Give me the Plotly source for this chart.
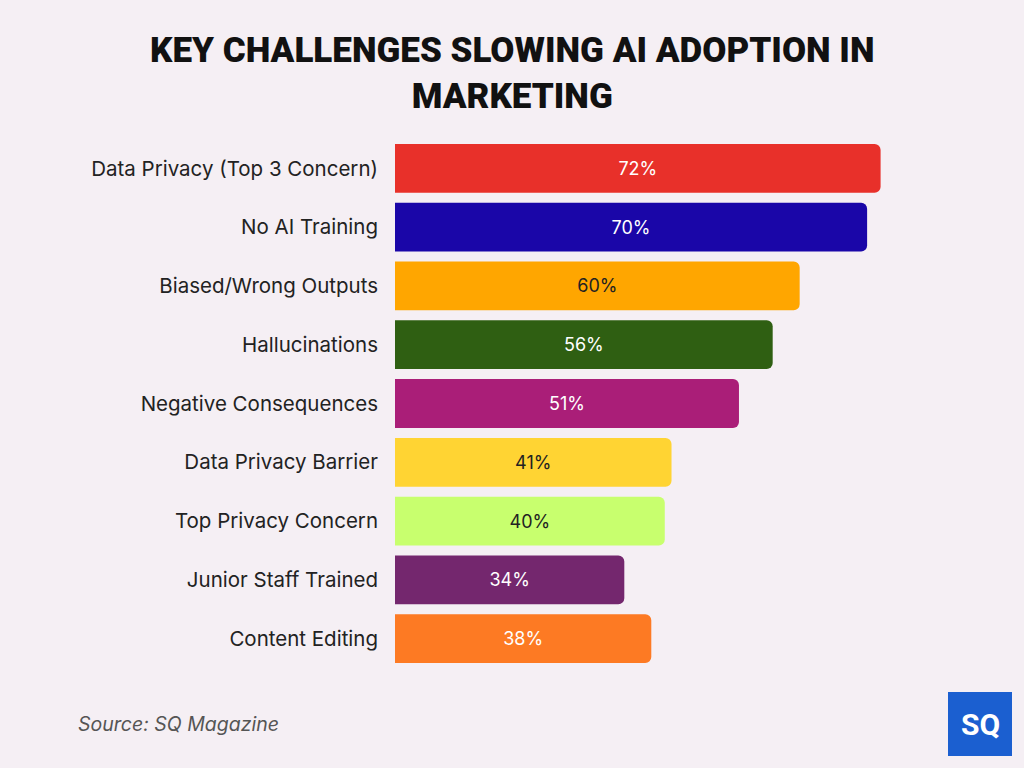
import plotly.graph_objects as go

categories = ["Data Privacy (Top 3 Concern)", "No AI Training", "Biased/Wrong Outputs",
              "Hallucinations", "Negative Consequences", "Data Privacy Barrier",
              "Top Privacy Concern", "Junior Staff Trained", "Content Editing"]
values = [72, 70, 60, 56, 51, 41, 40, 34, 38]
colors = ["#e8302a", "#1a06a8", "#ffa600", "#2f5f12", "#aa1e78", "#ffd433",
          "#c8ff6e", "#74276e", "#fd7a23"]
text_colors = ["white", "white", "#222222", "white", "white", "#222222",
               "#222222", "white", "white"]
labels = [f"{v}%" for v in values]

W, H = 1024, 768
pl, pr, pt, pb = 395, 22, 139, 100
pw, ph = W - pl - pr, H - pt - pb
def px(x): return (x - pl) / pw
def py(y): return (H - pb - y) / ph

fig = go.Figure(go.Bar(
    y=categories, x=values, orientation="h",
    marker=dict(color=colors, line=dict(width=0), cornerradius=6),
    text=labels, textposition="inside", insidetextanchor="middle",
    textfont=dict(family="Inter", size=18, color=text_colors),
    width=0.83, hoverinfo="skip",
))

fig.update_layout(
    width=W, height=H,
    paper_bgcolor="#f5eff4", plot_bgcolor="rgba(0,0,0,0)",
    margin=dict(l=pl, r=pr, t=pt, b=pb),
    showlegend=False,
    xaxis=dict(range=[0, 90], visible=False, fixedrange=True),
    yaxis=dict(autorange="reversed", showgrid=False, zeroline=False, showline=False,
               ticks="", ticklabelstandoff=16,
               tickfont=dict(family="Inter", size=20.5, color="#222222")),
    annotations=[
        dict(text="KEY CHALLENGES SLOWING AI ADOPTION IN<br>MARKETING", x=px(512), y=py(74),
             xref="paper", yref="paper", showarrow=False, xanchor="center", yanchor="middle",
             font=dict(family="Roboto", size=35, color="#111111", weight=900)),
        dict(text="<i>Source: SQ Magazine</i>", x=px(76), y=py(724), xref="paper", yref="paper",
             showarrow=False, xanchor="left", yanchor="middle",
             font=dict(family="Inter", size=19.5, color="#555555")),
        dict(text="<b>SQ</b>", x=px(980), y=py(724), xref="paper", yref="paper", showarrow=False,
             xanchor="center", yanchor="middle",
             font=dict(family="Roboto", size=30, color="white")),
    ],
    shapes=[dict(type="rect", xref="paper", yref="paper", x0=px(948), x1=px(1012),
                 y0=py(756), y1=py(692),
                 fillcolor="#1b5fd0", line=dict(width=0), layer="below")],
)

fig.write_html("out.html")
